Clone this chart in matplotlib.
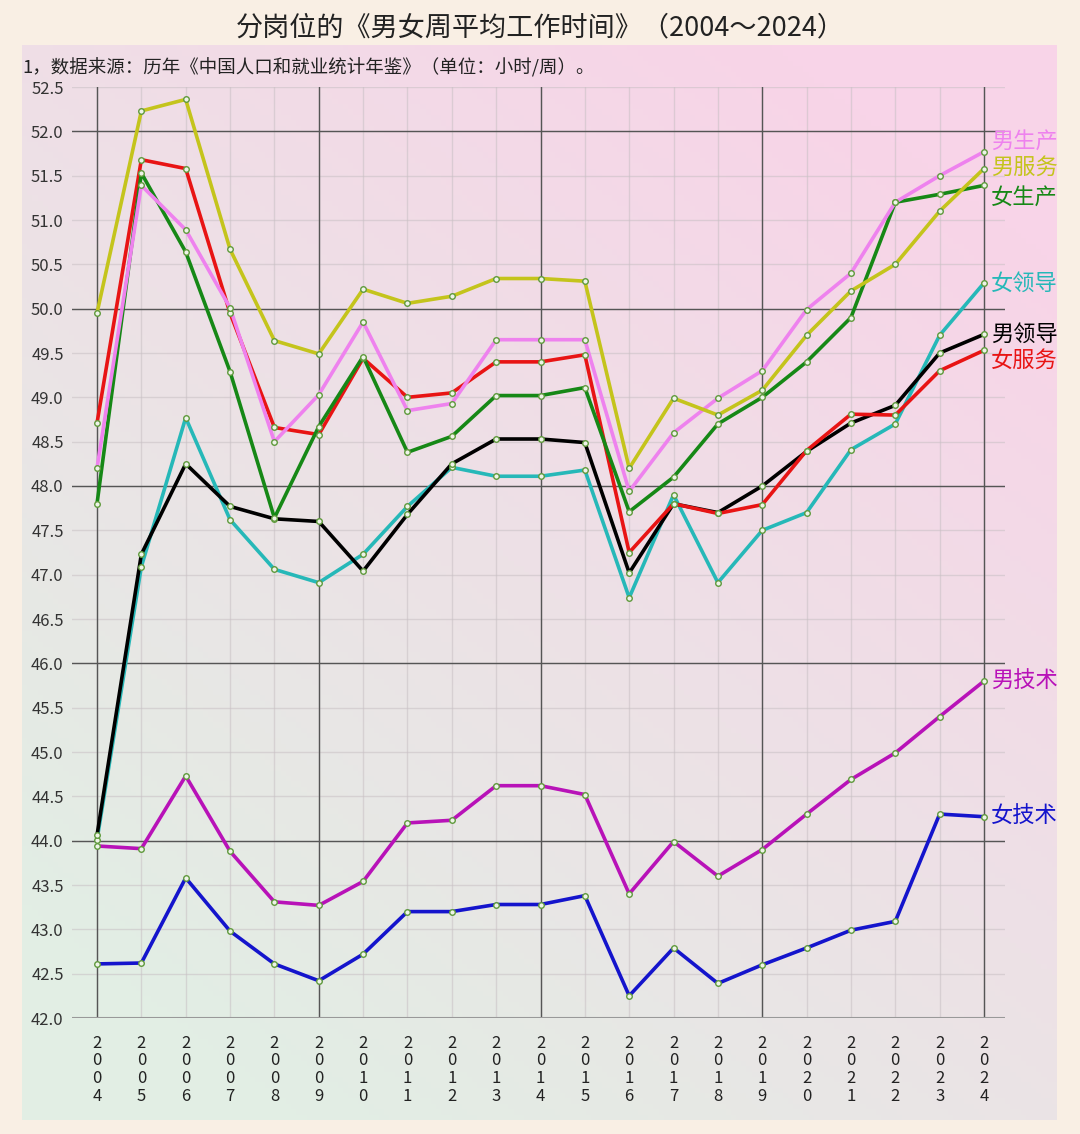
import numpy as np
import matplotlib
matplotlib.use("Agg")
import matplotlib.pyplot as plt
from matplotlib.colors import to_rgb

plt.rcParams['font.family'] = ['Noto Sans CJK SC', 'DejaVu Sans']

years = list(range(2004, 2025))

# 各岗位周平均工作时间（小时/周）
male_prod = [48.20, 51.39, 50.89, 50.01, 48.50, 49.03, 49.85, 48.85, 48.93, 49.65, 49.65,
             49.65, 47.94, 48.60, 48.99, 49.30, 49.99, 50.40, 51.20, 51.50, 51.77]
male_serv = [49.95, 52.23, 52.36, 50.67, 49.64, 49.49, 50.22, 50.06, 50.14, 50.34, 50.34,
             50.31, 48.20, 48.99, 48.80, 49.08, 49.70, 50.20, 50.50, 51.10, 51.58]
female_prod = [47.80, 51.53, 50.64, 49.29, 47.64, 48.67, 49.46, 48.38, 48.56, 49.02, 49.02,
               49.11, 47.71, 48.10, 48.70, 49.00, 49.40, 49.90, 51.20, 51.29, 51.39]
female_lead = [44.01, 47.09, 48.77, 47.62, 47.06, 46.91, 47.23, 47.77, 48.21, 48.11, 48.11,
               48.18, 46.74, 47.90, 46.91, 47.50, 47.70, 48.41, 48.70, 49.70, 50.29]
male_lead = [44.06, 47.23, 48.25, 47.77, 47.63, 47.60, 47.04, 47.68, 48.25, 48.53, 48.53,
             48.49, 47.02, 47.80, 47.70, 48.00, 48.39, 48.71, 48.91, 49.50, 49.71]
female_serv = [48.71, 51.68, 51.58, 49.95, 48.66, 48.58, 49.44, 49.00, 49.05, 49.40, 49.40,
               49.48, 47.25, 47.80, 47.69, 47.79, 48.40, 48.81, 48.80, 49.30, 49.53]
male_tech = [43.94, 43.91, 44.73, 43.88, 43.31, 43.27, 43.54, 44.20, 44.23, 44.62, 44.62,
             44.52, 43.40, 43.99, 43.60, 43.90, 44.30, 44.69, 44.99, 45.40, 45.80]
female_tech = [42.61, 42.62, 43.58, 42.98, 42.61, 42.42, 42.72, 43.20, 43.20, 43.28, 43.28,
               43.38, 42.25, 42.79, 42.39, 42.60, 42.79, 42.99, 43.09, 44.30, 44.27]

series = [
    ("男技术", male_tech, "#b812b8"),
    ("女技术", female_tech, "#1414cc"),
    ("女领导", female_lead, "#26b8b8"),
    ("男领导", male_lead, "#000000"),
    ("女服务", female_serv, "#e81414"),
    ("女生产", female_prod, "#168816"),
    ("男生产", male_prod, "#ee82ee"),
    ("男服务", male_serv, "#c4c41c"),
]
# 右侧标签的纵向位置（避免重叠）
label_y = {"男生产": 51.89, "男服务": 51.59, "女生产": 51.26, "女领导": 50.29,
           "男领导": 49.71, "女服务": 49.42, "男技术": 45.80, "女技术": 44.27}

W, H = 1080, 1134
fig = plt.figure(figsize=(W / 100, H / 100), dpi=100)
fig.patch.set_facecolor("#f9efe4")

# gradient panel
bg = fig.add_axes([22 / W, 1 - 1120 / H, (1057 - 22) / W, (1120 - 45) / H])
gx, gy = np.meshgrid(np.linspace(0, 1, 200), np.linspace(1, 0, 200))
t = np.clip(0.55 * gx + 0.75 * gy - 0.15, 0, 1)[..., None]
c0 = np.array(to_rgb("#e2eee4"))
c1 = np.array(to_rgb("#f8d4e8"))
bg.imshow(c0 + (c1 - c0) * t, aspect="auto", extent=[0, 1, 0, 1])
bg.axis("off")

ax = fig.add_axes([72 / W, 1 - 1018 / H, (1005 - 72) / W, (1018 - 87) / H])
ax.set_facecolor("none")
ax.set_xlim(2004 - 25 / 44.35, 2024 + 21 / 44.35)
ax.set_ylim(42.0, 52.5)

for name, vals, col in series:
    ax.plot(years, vals, color=col, lw=2.6, zorder=3, solid_capstyle="round")
    ax.plot(years, vals, ls="none", marker="o", ms=4, mfc="#eef3e8",
            mec="#5f9a3c", mew=1.0, zorder=4)
    ax.text(2024 + 0.15, label_y[name], name, color=col, fontsize=16,
            va="center", ha="left", clip_on=False)

yt = np.arange(42.0, 52.51, 0.5)
ax.set_yticks(yt)
ax.set_yticklabels([f"{v:.1f}" for v in yt], fontsize=12, color="#333333")
ax.set_xticks(years)
ax.set_xticklabels(["\n".join(str(y)) for y in years], fontsize=12,
                   color="#222222", linespacing=1.05, va="top")
ax.tick_params(axis="both", length=0)
ax.tick_params(axis="x", pad=12)
ax.tick_params(axis="y", pad=6)

ax.grid(True, color="#c8c0c4", lw=1, alpha=0.55, zorder=1)
for y in np.arange(44, 52.1, 2):
    ax.axhline(y, color="#555555", lw=1, zorder=2)
for x in years[::5]:
    ax.axvline(x, color="#555555", lw=1, zorder=2)
ax.axhline(42.0, color="#999999", lw=1.5, zorder=2)
for s in ax.spines.values():
    s.set_visible(False)

fig.text(540 / W, 1 - 28 / H, "分岗位的《男女周平均工作时间》（2004～2024）",
         ha="center", va="center", fontsize=19.5, color="#222222")
fig.text(22 / W, 1 - 68 / H, "1，数据来源：历年《中国人口和就业统计年鉴》（单位：小时/周）。",
         ha="left", va="center", fontsize=13.3, color="#222222")

fig.savefig("out.png", dpi=100, facecolor=fig.get_facecolor())
